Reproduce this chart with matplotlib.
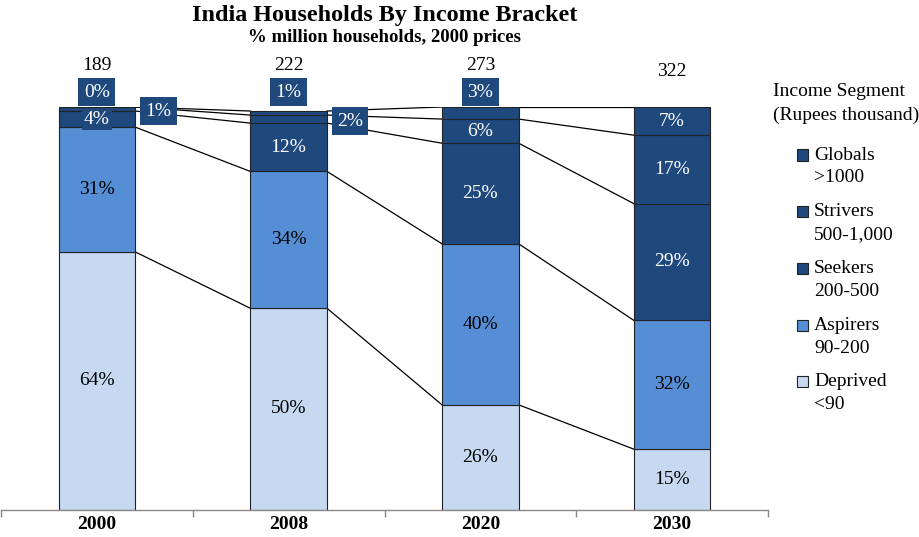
import matplotlib
matplotlib.use("Agg")
import matplotlib.pyplot as plt
import numpy as np
from matplotlib.patches import Rectangle

plt.rcParams['font.family'] = ['Liberation Serif', 'DejaVu Serif']

# data
years = ["2000", "2008", "2020", "2030"]
totals = [189, 222, 273, 322]
segments = ["Deprived", "Aspirers", "Seekers", "Strivers", "Globals"]
ranges = ["<90", "90-200", "200-500", "500-1,000", ">1000"]
deprived = [64, 50, 26, 15]
aspirers = [31, 34, 40, 32]
seekers = [4, 12, 25, 29]
strivers = [1, 2, 6, 17]
globals_ = [0, 1, 3, 7]

# labels drawn in a box outside the bar: (segment index, year index, where)
outside = [(4, 0, "above"), (3, 0, "right"), (4, 1, "above"), (3, 1, "right"), (4, 2, "above")]

LIGHT = "#C6D9F1"
MID = "#558ED5"
DARK = "#1F497D"
colors = [LIGHT, MID, DARK, DARK, DARK]
text_colors = ["black", "black", "white", "white", "white"]
FS = 14

W, H = 919, 537
fig = plt.figure(figsize=(W / 100, H / 100), dpi=100)
ax = fig.add_axes([1 / W, 1 - 509.5 / H, 767 / W, 402.5 / H])

values = np.array([deprived, aspirers, seekers, strivers, globals_], dtype=float)
cum = np.vstack([np.zeros(len(years)), np.cumsum(values, axis=0)])
x = np.arange(len(years))
bw = 0.40

for k in range(len(segments)):
    ax.bar(x, values[k], bw, bottom=cum[k], color=colors[k], edgecolor="#222222",
           linewidth=0.8, zorder=2)

# series lines between bars
for i in range(len(years) - 1):
    for k in range(1, len(segments) + 1):
        ax.plot([i + bw / 2, i + 1 - bw / 2], [cum[k][i], cum[k][i + 1]],
                color="black", linewidth=0.9, zorder=1)

out_set = {(s, i): w for s, i, w in outside}
for k in range(len(segments)):
    for i in range(len(years)):
        v = values[k][i]
        label = f"{int(v)}%"
        where = out_set.get((k, i))
        if where == "above":
            ax.text(i, 103.7, label, ha="center", va="center", fontsize=FS, color="white",
                    bbox=dict(boxstyle="square,pad=0.28", fc=DARK, ec="none"), zorder=5,
                    clip_on=False)
        elif where == "right":
            ax.text(i + 0.32, cum[k][i] + v / 2 - 0.5, label, ha="center", va="center",
                    fontsize=FS, color="white",
                    bbox=dict(boxstyle="square,pad=0.28", fc=DARK, ec="none"), zorder=5,
                    clip_on=False)
        else:
            ax.text(i, cum[k][i] + v / 2, label, ha="center", va="center", fontsize=FS,
                    color=text_colors[k],
                    bbox=dict(boxstyle="square,pad=0.1", fc=colors[k], ec="none"), zorder=4)

# totals
has_box = {i for s, i, w in outside if w == "above"}
for i, t in enumerate(totals):
    ax.text(i, 110.3 if i in has_box else 108.7, str(t), ha="center", va="center",
            fontsize=FS, color="black", clip_on=False)

ax.set_xlim(-0.5, len(years) - 0.5)
ax.set_ylim(0, 100)
for s in ["left", "right", "top"]:
    ax.spines[s].set_visible(False)
ax.spines["bottom"].set_color("#888888")
ax.spines["bottom"].set_linewidth(1.0)
ax.set_yticks([])
ax.set_xticks(x)
ax.set_xticklabels(years, fontsize=FS, fontweight="bold")
ax.tick_params(axis="x", which="major", length=0, pad=5)
ax.set_xticks(np.arange(-0.5, len(years)), minor=True)
ax.tick_params(axis="x", which="minor", length=5, color="#888888", width=1.0)

# title
fig.text(385 / W, 1 - 15 / H, "India Households By Income Bracket", ha="center", va="center",
         fontsize=17.4, fontweight="bold")
fig.text(385 / W, 1 - 38 / H, "% million households, 2000 prices", ha="center", va="center",
         fontsize=13.5, fontweight="bold")

# legend
fig.text(773 / W, 1 - 92 / H, "Income Segment", ha="left", va="center", fontsize=FS)
fig.text(773 / W, 1 - 115 / H, "(Rupees thousand)", ha="left", va="center", fontsize=FS)
for j, k in enumerate(reversed(range(len(segments)))):
    y0 = 155 + j * 56.7
    fig.patches.append(Rectangle((797 / W, 1 - (y0 + 5.5) / H), 11 / W, 11 / H,
                                 transform=fig.transFigure, facecolor=colors[k],
                                 edgecolor="#222222", linewidth=0.8))
    fig.text(814 / W, 1 - y0 / H, segments[k], ha="left", va="center", fontsize=FS)
    fig.text(814 / W, 1 - (y0 + 23) / H, ranges[k], ha="left", va="center", fontsize=FS)

fig.savefig("out.png", dpi=100)
